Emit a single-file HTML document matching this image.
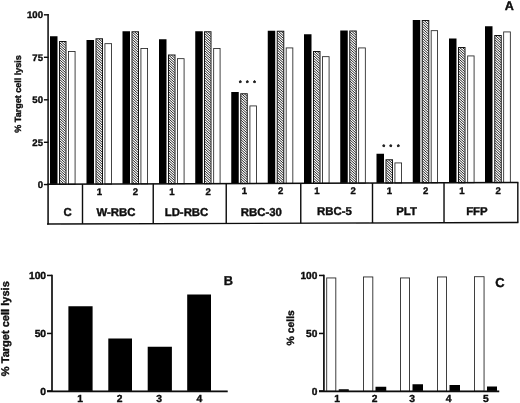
<!DOCTYPE html>
<html><head><meta charset="utf-8"><title>Figure</title>
<style>
html,body{margin:0;padding:0;background:#fff;}
body{width:520px;height:403px;overflow:hidden;}
svg{display:block;}
text{font-family:"Liberation Sans",Arial,sans-serif;font-weight:bold;fill:#0a0a0a;stroke:#0a0a0a;stroke-width:0.35px;text-rendering:geometricPrecision;}
</style></head><body>
<svg width="520" height="403" viewBox="0 0 520 403">
<defs>
<filter id="bl" x="-5%" y="-5%" width="110%" height="110%"><feGaussianBlur stdDeviation="0.35"/></filter>
</defs>
<rect width="520" height="403" fill="#fff"/>
<g filter="url(#bl)">

<rect x="50" y="36.25" width="7.5" height="147.98" fill="#050505"/>
<rect x="68.42" y="51.42" width="6.66" height="132.74" fill="#fff" stroke="#222" stroke-width="0.84"/>
<rect x="86.5" y="40" width="7.5" height="144.10" fill="#050505"/>
<rect x="104.92" y="43.67" width="6.66" height="140.36" fill="#fff" stroke="#222" stroke-width="0.84"/>
<rect x="122.5" y="31.25" width="7.5" height="152.72" fill="#050505"/>
<rect x="140.92" y="48.42" width="6.66" height="135.48" fill="#fff" stroke="#222" stroke-width="0.84"/>
<rect x="159" y="39.25" width="7.5" height="144.58" fill="#050505"/>
<rect x="177.42" y="58.67" width="6.66" height="125.10" fill="#fff" stroke="#222" stroke-width="0.84"/>
<rect x="195.25" y="31.25" width="7.5" height="152.45" fill="#050505"/>
<rect x="213.67" y="48.42" width="6.41" height="135.22" fill="#fff" stroke="#222" stroke-width="0.84"/>
<rect x="231.25" y="92" width="7.5" height="91.57" fill="#050505"/>
<rect x="249.92" y="105.92" width="6.66" height="77.59" fill="#fff" stroke="#222" stroke-width="0.84"/>
<rect x="267.75" y="30.75" width="7.5" height="152.69" fill="#050505"/>
<rect x="286.17" y="47.92" width="6.66" height="135.46" fill="#fff" stroke="#222" stroke-width="0.84"/>
<rect x="304" y="34.25" width="7.5" height="149.06" fill="#050505"/>
<rect x="322.42" y="56.67" width="6.66" height="126.58" fill="#fff" stroke="#222" stroke-width="0.84"/>
<rect x="340.25" y="30.5" width="7.5" height="152.68" fill="#050505"/>
<rect x="358.67" y="47.92" width="6.66" height="135.19" fill="#fff" stroke="#222" stroke-width="0.84"/>
<rect x="376.5" y="153.75" width="7.5" height="29.30" fill="#050505"/>
<rect x="394.92" y="162.92" width="6.66" height="20.06" fill="#fff" stroke="#222" stroke-width="0.84"/>
<rect x="412.75" y="20" width="7.5" height="162.92" fill="#050505"/>
<rect x="431.17" y="30.67" width="6.41" height="152.18" fill="#fff" stroke="#222" stroke-width="0.84"/>
<rect x="449" y="38.5" width="7.5" height="144.29" fill="#050505"/>
<rect x="467.67" y="55.92" width="6.41" height="126.80" fill="#fff" stroke="#222" stroke-width="0.84"/>
<rect x="485" y="26.25" width="7.5" height="156.41" fill="#050505"/>
<rect x="503.67" y="31.92" width="6.66" height="150.67" fill="#fff" stroke="#222" stroke-width="0.84"/>
<clipPath id="hc"><rect x="59.8" y="41.8" width="5.9" height="141.60"/><rect x="96.3" y="39.05" width="5.9" height="144.21"/><rect x="132.3" y="32.05" width="5.9" height="151.08"/><rect x="168.8" y="55.3" width="5.9" height="127.70"/><rect x="204.8" y="32.05" width="5.9" height="150.82"/><rect x="241.05" y="94.05" width="5.9" height="88.69"/><rect x="277.55" y="31.55" width="5.9" height="151.06"/><rect x="313.8" y="51.8" width="5.9" height="130.68"/><rect x="350.05" y="31.3" width="5.9" height="151.05"/><rect x="386.3" y="160.05" width="5.9" height="22.17"/><rect x="422.55" y="20.8" width="5.9" height="161.28"/><rect x="458.8" y="47.8" width="5.9" height="134.15"/><rect x="495.05" y="35.8" width="5.9" height="146.02"/></clipPath>
<rect x="59.5" y="41.5" width="6.5" height="142.70" fill="#fff" stroke="#161616" stroke-width="1"/>
<rect x="96.0" y="38.75" width="6.5" height="145.31" fill="#fff" stroke="#161616" stroke-width="1"/>
<rect x="132.0" y="31.75" width="6.5" height="152.18" fill="#fff" stroke="#161616" stroke-width="1"/>
<rect x="168.5" y="55.0" width="6.5" height="128.80" fill="#fff" stroke="#161616" stroke-width="1"/>
<rect x="204.5" y="31.75" width="6.5" height="151.92" fill="#fff" stroke="#161616" stroke-width="1"/>
<rect x="240.75" y="93.75" width="6.5" height="89.79" fill="#fff" stroke="#161616" stroke-width="1"/>
<rect x="277.25" y="31.25" width="6.5" height="152.16" fill="#fff" stroke="#161616" stroke-width="1"/>
<rect x="313.5" y="51.5" width="6.5" height="131.78" fill="#fff" stroke="#161616" stroke-width="1"/>
<rect x="349.75" y="31.0" width="6.5" height="152.15" fill="#fff" stroke="#161616" stroke-width="1"/>
<rect x="386.0" y="159.75" width="6.5" height="23.27" fill="#fff" stroke="#161616" stroke-width="1"/>
<rect x="422.25" y="20.5" width="6.5" height="162.38" fill="#fff" stroke="#161616" stroke-width="1"/>
<rect x="458.5" y="47.5" width="6.5" height="135.25" fill="#fff" stroke="#161616" stroke-width="1"/>
<rect x="494.75" y="35.5" width="6.5" height="147.12" fill="#fff" stroke="#161616" stroke-width="1"/>
<line x1="48.1" y1="14.1" x2="48.1" y2="224.5" stroke="#0a0a0a" stroke-width="1.5"/>
<line x1="43.9" y1="14.8" x2="48.5" y2="14.8" stroke="#0a0a0a" stroke-width="1.4"/>
<text x="43" y="18.0" font-size="9.6px" text-anchor="end">100</text>
<line x1="43.9" y1="57.3" x2="48.5" y2="57.3" stroke="#0a0a0a" stroke-width="1.4"/>
<text x="43" y="60.5" font-size="9.6px" text-anchor="end">75</text>
<line x1="43.9" y1="99.8" x2="48.5" y2="99.8" stroke="#0a0a0a" stroke-width="1.4"/>
<text x="43" y="103.0" font-size="9.6px" text-anchor="end">50</text>
<line x1="43.9" y1="142.3" x2="48.5" y2="142.3" stroke="#0a0a0a" stroke-width="1.4"/>
<text x="43" y="145.5" font-size="9.6px" text-anchor="end">25</text>
<line x1="43.9" y1="184.55" x2="48.5" y2="184.55" stroke="#0a0a0a" stroke-width="1.4"/>
<text x="43" y="187.75" font-size="9.6px" text-anchor="end">0</text>
<line x1="47" y1="184.25" x2="518.4" y2="182.55" stroke="#0a0a0a" stroke-width="1.5"/>
<line x1="47" y1="224" x2="518.4" y2="222.50" stroke="#0a0a0a" stroke-width="1.4"/>
<line x1="517.8" y1="182.55" x2="517.8" y2="222.50" stroke="#0a0a0a" stroke-width="1.4"/>
<line x1="82.5" y1="184.13" x2="82.5" y2="223.89" stroke="#0a0a0a" stroke-width="1.4"/>
<line x1="153.25" y1="183.87" x2="153.25" y2="223.66" stroke="#0a0a0a" stroke-width="1.4"/>
<line x1="226.25" y1="183.61" x2="226.25" y2="223.43" stroke="#0a0a0a" stroke-width="1.4"/>
<line x1="300.75" y1="183.34" x2="300.75" y2="223.19" stroke="#0a0a0a" stroke-width="1.4"/>
<line x1="372.5" y1="183.08" x2="372.5" y2="222.96" stroke="#0a0a0a" stroke-width="1.4"/>
<line x1="444" y1="182.82" x2="444" y2="222.74" stroke="#0a0a0a" stroke-width="1.4"/>
<text transform="translate(20.8,94.0) rotate(-90)" font-size="9px" text-anchor="middle">% Target cell lysis</text>
<text x="99.45" y="194.94" font-size="9.6px" text-anchor="middle">1</text>
<text x="135.45" y="194.82" font-size="9.6px" text-anchor="middle">2</text>
<text x="171.95" y="194.70" font-size="9.6px" text-anchor="middle">1</text>
<text x="208.07" y="194.59" font-size="9.6px" text-anchor="middle">2</text>
<text x="244.32" y="194.47" font-size="9.6px" text-anchor="middle">1</text>
<text x="280.70" y="194.36" font-size="9.6px" text-anchor="middle">2</text>
<text x="316.95" y="194.24" font-size="9.6px" text-anchor="middle">1</text>
<text x="353.20" y="194.13" font-size="9.6px" text-anchor="middle">2</text>
<text x="389.45" y="194.01" font-size="9.6px" text-anchor="middle">1</text>
<text x="425.57" y="193.89" font-size="9.6px" text-anchor="middle">2</text>
<text x="461.95" y="193.78" font-size="9.6px" text-anchor="middle">1</text>
<text x="498.07" y="193.66" font-size="9.6px" text-anchor="middle">2</text>
<text x="67.5" y="216.19" font-size="11.4px" text-anchor="middle">C</text>
<text x="115.9" y="216.03" font-size="11.4px" text-anchor="middle">W-RBC</text>
<text x="186.5" y="215.81" font-size="11.4px" text-anchor="middle">LD-RBC</text>
<text x="261.4" y="215.57" font-size="11.4px" text-anchor="middle">RBC-30</text>
<text x="334.5" y="215.34" font-size="11.4px" text-anchor="middle">RBC-5</text>
<text x="406.6" y="215.11" font-size="11.4px" text-anchor="middle">PLT</text>
<text x="476.9" y="214.88" font-size="11.4px" text-anchor="middle">FFP</text>
<text x="509.2" y="10.2" font-size="12.6px" text-anchor="middle">A</text>
<text x="240.2" y="85.1" font-size="6.6px" text-anchor="middle">*</text>
<text x="247.3" y="85.1" font-size="6.6px" text-anchor="middle">*</text>
<text x="254.6" y="85.1" font-size="6.6px" text-anchor="middle">*</text>
<text x="383.9" y="148.5" font-size="6.6px" text-anchor="middle">*</text>
<text x="390.9" y="148.5" font-size="6.6px" text-anchor="middle">*</text>
<text x="398.3" y="148.5" font-size="6.6px" text-anchor="middle">*</text>
<rect x="68.4" y="306.25" width="24.19999999999999" height="85.0" fill="#050505"/>
<rect x="108.3" y="338.5" width="23.700000000000003" height="52.75" fill="#050505"/>
<rect x="147.7" y="346.75" width="24.200000000000017" height="44.5" fill="#050505"/>
<rect x="187.2" y="294.5" width="23.80000000000001" height="96.75" fill="#050505"/>
<line x1="52" y1="274.7" x2="52" y2="392" stroke="#0a0a0a" stroke-width="1.7"/>
<line x1="47" y1="391.3" x2="227.7" y2="391.3" stroke="#0a0a0a" stroke-width="1.7"/>
<line x1="47" y1="275.45" x2="52" y2="275.45" stroke="#0a0a0a" stroke-width="1.5"/>
<text x="46.1" y="279.35" font-size="10.3px" text-anchor="end">100</text>
<line x1="47" y1="333.45" x2="52" y2="333.45" stroke="#0a0a0a" stroke-width="1.5"/>
<text x="46.1" y="337.35" font-size="10.3px" text-anchor="end">50</text>
<line x1="47" y1="390.95" x2="52" y2="390.95" stroke="#0a0a0a" stroke-width="1.5"/>
<text x="46.1" y="394.85" font-size="10.3px" text-anchor="end">0</text>
<text x="80" y="402.3" font-size="10.3px" text-anchor="middle">1</text>
<text x="119.7" y="402.3" font-size="10.3px" text-anchor="middle">2</text>
<text x="159.2" y="402.3" font-size="10.3px" text-anchor="middle">3</text>
<text x="199.3" y="402.3" font-size="10.3px" text-anchor="middle">4</text>
<text x="228.4" y="284.8" font-size="12.8px" text-anchor="middle">B</text>
<text transform="translate(9.0,328.7) rotate(-90)" font-size="11.05px" text-anchor="middle">% Target cell lysis</text>
<rect x="326.7" y="277.95" width="9.1" height="113.3" fill="#fff" stroke="#2a2a2a" stroke-width="0.9"/>
<rect x="363.45" y="276.95" width="9.35" height="114.3" fill="#fff" stroke="#2a2a2a" stroke-width="0.9"/>
<rect x="400.45" y="277.95" width="9.1" height="113.3" fill="#fff" stroke="#2a2a2a" stroke-width="0.9"/>
<rect x="437.45" y="276.95" width="9.1" height="114.3" fill="#fff" stroke="#2a2a2a" stroke-width="0.9"/>
<rect x="474.45" y="276.7" width="9.6" height="114.55" fill="#fff" stroke="#2a2a2a" stroke-width="0.9"/>
<rect x="338.75" y="389.25" width="10.0" height="2.0" fill="#050505"/>
<rect x="375.5" y="386.75" width="10.75" height="4.5" fill="#050505"/>
<rect x="412.5" y="384.25" width="10.5" height="7.0" fill="#050505"/>
<rect x="449.5" y="385" width="10.5" height="6.25" fill="#050505"/>
<rect x="487" y="386.5" width="10" height="4.75" fill="#050505"/>
<line x1="323.9" y1="274.7" x2="323.9" y2="392" stroke="#0a0a0a" stroke-width="1.7"/>
<line x1="319" y1="391.3" x2="499.25" y2="391.3" stroke="#0a0a0a" stroke-width="1.7"/>
<line x1="319" y1="275.45" x2="324" y2="275.45" stroke="#0a0a0a" stroke-width="1.5"/>
<text x="317.4" y="279.35" font-size="10.2px" text-anchor="end">100</text>
<line x1="319" y1="333.45" x2="324" y2="333.45" stroke="#0a0a0a" stroke-width="1.5"/>
<text x="317.4" y="337.35" font-size="10.2px" text-anchor="end">50</text>
<line x1="319" y1="390.95" x2="324" y2="390.95" stroke="#0a0a0a" stroke-width="1.5"/>
<text x="317.4" y="394.85" font-size="10.2px" text-anchor="end">0</text>
<text x="337" y="402.3" font-size="10.3px" text-anchor="middle">1</text>
<text x="374.5" y="402.3" font-size="10.3px" text-anchor="middle">2</text>
<text x="412" y="402.3" font-size="10.3px" text-anchor="middle">3</text>
<text x="448.5" y="402.3" font-size="10.3px" text-anchor="middle">4</text>
<text x="485.75" y="402.3" font-size="10.3px" text-anchor="middle">5</text>
<text x="500" y="287" font-size="12.9px" text-anchor="middle">C</text>
<text transform="translate(293.7,327.75) rotate(-90)" font-size="10.4px" text-anchor="middle">% cells</text>
</g>
<path clip-path="url(#hc)" d="M48 -470.00L520 -45.20M48 -467.55L520 -42.75M48 -465.10L520 -40.30M48 -462.65L520 -37.85M48 -460.20L520 -35.40M48 -457.75L520 -32.95M48 -455.30L520 -30.50M48 -452.85L520 -28.05M48 -450.40L520 -25.60M48 -447.95L520 -23.15M48 -445.50L520 -20.70M48 -443.05L520 -18.25M48 -440.60L520 -15.80M48 -438.15L520 -13.35M48 -435.70L520 -10.90M48 -433.25L520 -8.45M48 -430.80L520 -6.00M48 -428.35L520 -3.55M48 -425.90L520 -1.10M48 -423.45L520 1.35M48 -421.00L520 3.80M48 -418.55L520 6.25M48 -416.10L520 8.70M48 -413.65L520 11.15M48 -411.20L520 13.60M48 -408.75L520 16.05M48 -406.30L520 18.50M48 -403.85L520 20.95M48 -401.40L520 23.40M48 -398.95L520 25.85M48 -396.50L520 28.30M48 -394.05L520 30.75M48 -391.60L520 33.20M48 -389.15L520 35.65M48 -386.70L520 38.10M48 -384.25L520 40.55M48 -381.80L520 43.00M48 -379.35L520 45.45M48 -376.90L520 47.90M48 -374.45L520 50.35M48 -372.00L520 52.80M48 -369.55L520 55.25M48 -367.10L520 57.70M48 -364.65L520 60.15M48 -362.20L520 62.60M48 -359.75L520 65.05M48 -357.30L520 67.50M48 -354.85L520 69.95M48 -352.40L520 72.40M48 -349.95L520 74.85M48 -347.50L520 77.30M48 -345.05L520 79.75M48 -342.60L520 82.20M48 -340.15L520 84.65M48 -337.70L520 87.10M48 -335.25L520 89.55M48 -332.80L520 92.00M48 -330.35L520 94.45M48 -327.90L520 96.90M48 -325.45L520 99.35M48 -323.00L520 101.80M48 -320.55L520 104.25M48 -318.10L520 106.70M48 -315.65L520 109.15M48 -313.20L520 111.60M48 -310.75L520 114.05M48 -308.30L520 116.50M48 -305.85L520 118.95M48 -303.40L520 121.40M48 -300.95L520 123.85M48 -298.50L520 126.30M48 -296.05L520 128.75M48 -293.60L520 131.20M48 -291.15L520 133.65M48 -288.70L520 136.10M48 -286.25L520 138.55M48 -283.80L520 141.00M48 -281.35L520 143.45M48 -278.90L520 145.90M48 -276.45L520 148.35M48 -274.00L520 150.80M48 -271.55L520 153.25M48 -269.10L520 155.70M48 -266.65L520 158.15M48 -264.20L520 160.60M48 -261.75L520 163.05M48 -259.30L520 165.50M48 -256.85L520 167.95M48 -254.40L520 170.40M48 -251.95L520 172.85M48 -249.50L520 175.30M48 -247.05L520 177.75M48 -244.60L520 180.20M48 -242.15L520 182.65M48 -239.70L520 185.10M48 -237.25L520 187.55M48 -234.80L520 190.00M48 -232.35L520 192.45M48 -229.90L520 194.90M48 -227.45L520 197.35M48 -225.00L520 199.80M48 -222.55L520 202.25M48 -220.10L520 204.70M48 -217.65L520 207.15M48 -215.20L520 209.60M48 -212.75L520 212.05M48 -210.30L520 214.50M48 -207.85L520 216.95M48 -205.40L520 219.40M48 -202.95L520 221.85M48 -200.50L520 224.30M48 -198.05L520 226.75M48 -195.60L520 229.20M48 -193.15L520 231.65M48 -190.70L520 234.10M48 -188.25L520 236.55M48 -185.80L520 239.00M48 -183.35L520 241.45M48 -180.90L520 243.90M48 -178.45L520 246.35M48 -176.00L520 248.80M48 -173.55L520 251.25M48 -171.10L520 253.70M48 -168.65L520 256.15M48 -166.20L520 258.60M48 -163.75L520 261.05M48 -161.30L520 263.50M48 -158.85L520 265.95M48 -156.40L520 268.40M48 -153.95L520 270.85M48 -151.50L520 273.30M48 -149.05L520 275.75M48 -146.60L520 278.20M48 -144.15L520 280.65M48 -141.70L520 283.10M48 -139.25L520 285.55M48 -136.80L520 288.00M48 -134.35L520 290.45M48 -131.90L520 292.90M48 -129.45L520 295.35M48 -127.00L520 297.80M48 -124.55L520 300.25M48 -122.10L520 302.70M48 -119.65L520 305.15M48 -117.20L520 307.60M48 -114.75L520 310.05M48 -112.30L520 312.50M48 -109.85L520 314.95M48 -107.40L520 317.40M48 -104.95L520 319.85M48 -102.50L520 322.30M48 -100.05L520 324.75M48 -97.60L520 327.20M48 -95.15L520 329.65M48 -92.70L520 332.10M48 -90.25L520 334.55M48 -87.80L520 337.00M48 -85.35L520 339.45M48 -82.90L520 341.90M48 -80.45L520 344.35M48 -78.00L520 346.80M48 -75.55L520 349.25M48 -73.10L520 351.70M48 -70.65L520 354.15M48 -68.20L520 356.60M48 -65.75L520 359.05M48 -63.30L520 361.50M48 -60.85L520 363.95M48 -58.40L520 366.40M48 -55.95L520 368.85M48 -53.50L520 371.30M48 -51.05L520 373.75M48 -48.60L520 376.20M48 -46.15L520 378.65M48 -43.70L520 381.10M48 -41.25L520 383.55M48 -38.80L520 386.00M48 -36.35L520 388.45M48 -33.90L520 390.90M48 -31.45L520 393.35M48 -29.00L520 395.80M48 -26.55L520 398.25M48 -24.10L520 400.70M48 -21.65L520 403.15M48 -19.20L520 405.60M48 -16.75L520 408.05M48 -14.30L520 410.50M48 -11.85L520 412.95M48 -9.40L520 415.40M48 -6.95L520 417.85M48 -4.50L520 420.30M48 -2.05L520 422.75M48 0.40L520 425.20M48 2.85L520 427.65M48 5.30L520 430.10M48 7.75L520 432.55M48 10.20L520 435.00M48 12.65L520 437.45M48 15.10L520 439.90M48 17.55L520 442.35M48 20.00L520 444.80M48 22.45L520 447.25M48 24.90L520 449.70M48 27.35L520 452.15M48 29.80L520 454.60M48 32.25L520 457.05M48 34.70L520 459.50M48 37.15L520 461.95M48 39.60L520 464.40M48 42.05L520 466.85M48 44.50L520 469.30M48 46.95L520 471.75M48 49.40L520 474.20M48 51.85L520 476.65M48 54.30L520 479.10M48 56.75L520 481.55M48 59.20L520 484.00M48 61.65L520 486.45M48 64.10L520 488.90M48 66.55L520 491.35M48 69.00L520 493.80M48 71.45L520 496.25M48 73.90L520 498.70M48 76.35L520 501.15M48 78.80L520 503.60M48 81.25L520 506.05M48 83.70L520 508.50M48 86.15L520 510.95M48 88.60L520 513.40M48 91.05L520 515.85M48 93.50L520 518.30M48 95.95L520 520.75M48 98.40L520 523.20M48 100.85L520 525.65M48 103.30L520 528.10M48 105.75L520 530.55M48 108.20L520 533.00M48 110.65L520 535.45M48 113.10L520 537.90M48 115.55L520 540.35M48 118.00L520 542.80M48 120.45L520 545.25M48 122.90L520 547.70M48 125.35L520 550.15M48 127.80L520 552.60M48 130.25L520 555.05M48 132.70L520 557.50M48 135.15L520 559.95M48 137.60L520 562.40M48 140.05L520 564.85M48 142.50L520 567.30M48 144.95L520 569.75M48 147.40L520 572.20M48 149.85L520 574.65M48 152.30L520 577.10M48 154.75L520 579.55M48 157.20L520 582.00M48 159.65L520 584.45M48 162.10L520 586.90M48 164.55L520 589.35M48 167.00L520 591.80M48 169.45L520 594.25M48 171.90L520 596.70M48 174.35L520 599.15M48 176.80L520 601.60M48 179.25L520 604.05M48 181.70L520 606.50M48 184.15L520 608.95M48 186.60L520 611.40M48 189.05L520 613.85" stroke="#000" stroke-width="0.86" fill="none"/>
</svg></body></html>
